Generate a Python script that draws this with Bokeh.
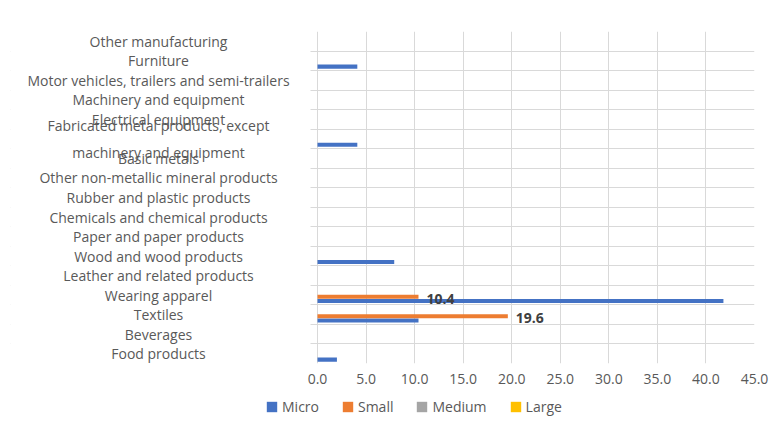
from bokeh.plotting import figure
from bokeh.layouts import column
from bokeh.models import (FactorRange, Range1d, FixedTicker, Legend, LegendItem,
                          NumeralTickFormatter, ColumnDataSource, Grid, BoxAnnotation)
from bokeh.transform import dodge
from bokeh.embed import file_html
from bokeh.resources import INLINE
from bokeh.core.properties import value

categories = [
    "Food products",
    "Beverages",
    "Textiles",
    "Wearing apparel",
    "Leather and related products",
    "Wood and wood products",
    "Paper and paper products",
    "Chemicals and chemical products",
    "Rubber and plastic products",
    "Other non-metallic mineral products",
    "Basic metals",
    "Fabricated metal products, except\nmachinery and equipment",
    "Electrical equipment",
    "Machinery and equipment",
    "Motor vehicles, trailers and semi-trailers",
    "Furniture",
    "Other manufacturing",
]
micro = [2.0, 0, 10.4, 41.8, 0, 7.9, 0, 0, 0, 0, 0, 4.1, 0, 0, 0, 4.1, 0]
small = [0, 0, 19.6, 10.4, 0, 0, 0, 0, 0, 0, 0, 0, 0, 0, 0, 0, 0]
medium = [0, 0, 0, 0, 0, 0, 0, 0, 0, 0, 0, 0, 0, 0, 0, 0, 0]
large = [0, 0, 0, 0, 0, 0, 0, 0, 0, 0, 0, 0, 0, 0, 0, 0, 0]
series_names = ["Micro", "Small", "Medium", "Large"]
x_ticks = [0, 5, 10, 15, 20, 25, 30, 35, 40, 45]

colors = ["#4472C4", "#ED7D31", "#A5A5A5", "#FFC000"]
offsets = [-0.30, -0.08, 0.14, 0.36]
FONT = "Open Sans"
FS = "14px"
TXT = "#595959"
GRID = "#D9D9D9"

# layout (pixels): value area is 437 px wide, label area to its left 307 px
VAL_PX, LAB_PX = 437, 307
XMAX = 45
upx = XMAX / VAL_PX            # data units per pixel
x_start = -LAB_PX * upx
label_x = -159 * upx
tick_len = 7 * upx
TOTAL_W = 10 + VAL_PX + LAB_PX + 17

src = ColumnDataSource(dict(cat=categories, micro=micro, small=small, medium=medium, large=large,
                            small_lbl=[("%.1f" % v) if v > 0 else "" for v in small]))

p = figure(y_range=FactorRange(*categories), x_range=Range1d(x_start, XMAX),
           frame_width=VAL_PX + LAB_PX, frame_height=332,
           min_border_left=10, min_border_right=17, min_border_top=31, min_border_bottom=0,
           output_backend="svg", toolbar_location=None, y_axis_type=None)
p.outline_line_color = None
p.background_fill_color = "white"
p.border_fill_color = "white"

p.xaxis.ticker = FixedTicker(ticks=x_ticks)
p.xaxis.formatter = NumeralTickFormatter(format="0.0")
p.xaxis.axis_line_color = None
p.xaxis.major_tick_line_color = None
p.xaxis.major_tick_out = 0
p.xaxis.major_tick_in = 0
p.xaxis.minor_tick_line_color = None
p.xaxis.major_label_text_font = FONT
p.xaxis.major_label_text_font_size = FS
p.xaxis.major_label_text_color = TXT
p.xaxis.major_label_standoff = 10
p.xgrid.grid_line_color = GRID
p.ygrid.visible = False

boundaries = list(range(len(categories) + 1))
p.add_layout(Grid(dimension=1, ticker=FixedTicker(ticks=boundaries), grid_line_color=GRID))
# mask the category grid lines in the label area, leaving short outside ticks
p.add_layout(BoxAnnotation(right=-tick_len, fill_color="white", fill_alpha=1,
                           line_color=None, level="underlay"))

for name, col, c, off in zip(series_names, ["micro", "small", "medium", "large"], colors, offsets):
    p.hbar(y=dodge("cat", off, range=p.y_range), right=col, left=0, height=0.21,
           source=src, fill_color=c, line_color=None)

p.text(x="small", y=dodge("cat", offsets[1], range=p.y_range), text="small_lbl", source=src,
       x_offset=8, y_offset=2, text_baseline="middle", text_align="left",
       text_font=value(FONT), text_font_size=FS, text_font_style="bold", text_color="#404040")

p.text(x=label_x, y="cat", text="cat", source=src, text_align="center", text_baseline="middle",
       text_font=value(FONT), text_font_size=FS, text_color=TXT, text_line_height=1.43)

# legend strip below the chart (swatch renderers kept outside the visible range)
lf = figure(width=TOTAL_W, height=40, x_range=Range1d(0, 1), y_range=Range1d(0, 1),
            min_border=0, min_border_left=0, min_border_right=0, min_border_top=0, min_border_bottom=0,
            output_backend="svg", toolbar_location=None, x_axis_type=None, y_axis_type=None)
lf.outline_line_color = None
lf.background_fill_color = "white"
lf.border_fill_color = "white"
leg_renderers = []
for c in colors:
    leg_renderers.append(lf.hbar(y=[-5], right=[-5], left=[-5], height=0.5,
                                 fill_color=c, line_color=None))

legend = Legend(items=[LegendItem(label=n, renderers=[r]) for n, r in zip(series_names, leg_renderers)],
                orientation="horizontal", location=(255, 10),
                glyph_width=13, glyph_height=13, label_standoff=4, spacing=22, label_height=16,
                label_text_font=FONT, label_text_font_size=FS, label_text_color=TXT,
                border_line_color=None, background_fill_alpha=0,
                padding=2, margin=0)
lf.add_layout(legend, "center")

layout = column(p, lf, spacing=0)
open("out.html", "w").write(file_html(layout, INLINE))
